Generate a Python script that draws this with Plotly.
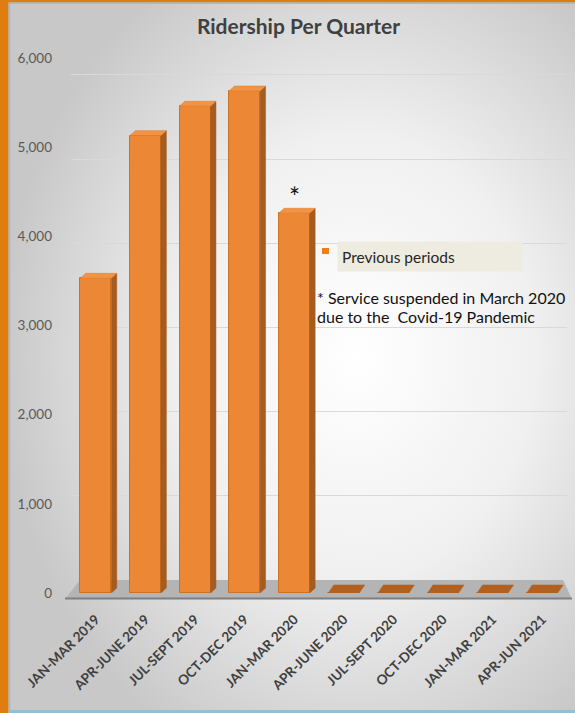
import base64
import plotly.graph_objects as go

# ---------------- data ----------------
quarters = ["JAN-MAR 2019", "APR-JUNE 2019", "JUL-SEPT 2019", "OCT-DEC 2019",
            "JAN-MAR 2020", "APR-JUNE 2020", "JUL-SEPT 2020", "OCT-DEC 2020",
            "JAN-MAR 2021", "APR-JUN 2021"]
riders = [3530, 5130, 5460, 5630, 4260, 0, 0, 0, 0, 0]
y_ticks = [0, 1000, 2000, 3000, 4000, 5000, 6000]
series_name = "Previous periods"
note_lines = ["* Service suspended in March 2020", "due to the \u00a0Covid-19 Pandemic"]
suspended_index = 4

# ---------------- geometry / style ----------------
W, H = 575, 713
ML, MR, MT, MB = 71, 8, 58, 120
PW, PH = W - ML - MR, H - MT - MB
BAR_W = 0.625
DX, DY = 0.11, 55          # oblique depth of the 3-D bars (axis units)
SLAB_DY = 90
FRONT = "#ec8835"
SIDE = "#a65b1f"
TOP = "#f29444"
SLAB = "#b3601f"


def px(x):
    return (x - ML) / PW


def py(y):
    return (H - MB - y) / PH


idx = list(range(len(quarters)))

# side and top faces derived from values
side_x, side_y, top_x, top_y, slab_x, slab_y = [], [], [], [], [], []
for i, v in zip(idx, riders):
    xl, xr = i - BAR_W / 2, i + BAR_W / 2
    if v > 0:
        side_x += [xr, xr, xr + DX, xr + DX, xr, None]
        side_y += [0, v, v + DY, DY, 0, None]
        top_x += [xl, xr, xr + DX, xl + DX, xl, None]
        top_y += [v, v, v + DY, v + DY, v, None]
    else:
        slab_x += [xl, xr, xr + DX, xl + DX, xl, None]
        slab_y += [v, v, v + SLAB_DY, v + SLAB_DY, v, None]

fig = go.Figure()
fig.add_trace(go.Bar(x=idx, y=riders, width=BAR_W, name=series_name,
                     marker=dict(color=FRONT, line=dict(color="#d0711f", width=1)),
                     showlegend=False, hoverinfo="x+y"))
fig.add_trace(go.Scatter(x=side_x, y=side_y, fill="toself", fillcolor=SIDE, mode="lines",
                         line=dict(color=SIDE, width=0.5), showlegend=False, hoverinfo="skip"))
fig.add_trace(go.Scatter(x=top_x, y=top_y, fill="toself", fillcolor=TOP, mode="lines",
                         line=dict(color="#d9782a", width=0.5), showlegend=False, hoverinfo="skip"))
fig.add_trace(go.Scatter(x=slab_x, y=slab_y, fill="toself", fillcolor=SLAB, mode="lines",
                         line=dict(color=SLAB, width=0.5), showlegend=False, hoverinfo="skip"))
# carrier for the back-wall grid axis
fig.add_trace(go.Scatter(x=[0], y=[0], yaxis="y2", mode="none", showlegend=False, hoverinfo="skip"))

# background gradient
svg = ('<svg xmlns="http://www.w3.org/2000/svg" width="575" height="713">'
       '<defs><radialGradient id="g" cx="0.62" cy="0.5" r="0.62">'
       '<stop offset="0" stop-color="#ffffff"/><stop offset="0.5" stop-color="#f0f0f0"/>'
       '<stop offset="1" stop-color="#c8c8c8"/></radialGradient></defs>'
       '<rect width="575" height="713" fill="url(#g)"/></svg>')
src = "data:image/svg+xml;base64," + base64.b64encode(svg.encode()).decode()

shapes = [
    # floor
    dict(type="path", xref="paper", yref="paper", layer="below",
         path=f"M {px(65)},{py(599)} L {px(572)},{py(599)} L {px(563)},{py(580)} L {px(80)},{py(580)} Z",
         fillcolor="#b4b4b4", line=dict(width=0)),
    dict(type="line", xref="paper", yref="paper", layer="below",
         x0=px(65), x1=px(572), y0=py(598.5), y1=py(598.5), line=dict(color="#7f7f7f", width=2)),
    # legend swatch
    dict(type="rect", xref="paper", yref="paper", x0=px(322), x1=px(329), y0=py(248), y1=py(254),
         fillcolor="#e8801f", line=dict(width=0)),
    # frame
    dict(type="rect", xref="paper", yref="paper", layer="above", x0=px(0), x1=px(8.5), y0=py(0), y1=py(H),
         fillcolor="#df7d10", line=dict(width=0)),
    dict(type="rect", xref="paper", yref="paper", layer="above", x0=px(0), x1=px(W), y0=py(0), y1=py(2.5),
         fillcolor="#df7d10", line=dict(width=0)),
    dict(type="line", xref="paper", yref="paper", layer="above", x0=px(9.5), x1=px(9.5), y0=py(3), y1=py(H),
         line=dict(color="#93c1d4", width=1.5)),
    dict(type="line", xref="paper", yref="paper", layer="above", x0=px(9), x1=px(W), y0=py(3.3), y1=py(3.3),
         line=dict(color="#93c1d4", width=1.5)),
    dict(type="line", xref="paper", yref="paper", layer="above", x0=px(9), x1=px(W), y0=py(711.5), y1=py(711.5),
         line=dict(color="#93c1d4", width=3)),
]

annotations = [
    dict(xref="paper", yref="paper", x=px(337), y=py(241), xanchor="left", yanchor="top",
         text=series_name, showarrow=False, align="left", bgcolor="#eeece1",
         width=176, height=21, borderpad=4,
         font=dict(family="Lato", size=15.5, color="#262626")),
    dict(xref="x", yref="y", x=suspended_index, y=riders[suspended_index],
         yanchor="bottom", text="*", showarrow=False, yshift=-2,
         font=dict(family="Lato", size=26, color="#111111")),
]
for k, line in enumerate(note_lines):
    annotations.append(dict(xref="paper", yref="paper", x=px(315), y=py(297 + 19 * k),
                            xanchor="left", yanchor="middle", text=line, showarrow=False, align="left",
                            font=dict(family="Lato", size=16, color="#111111")))

fig.update_layout(
    width=W, height=H,
    margin=dict(l=ML, r=MR, t=MT, b=MB),
    paper_bgcolor="#dcdcdc", plot_bgcolor="rgba(0,0,0,0)",
    title=dict(text="<b>Ridership Per Quarter</b>", x=298.5 / W, xref="container", xanchor="center",
               y=1 - 27 / H, yref="container", yanchor="middle",
               font=dict(family="Lato", size=21, color="#404040")),
    xaxis=dict(range=[-0.5, len(quarters) - 0.5], tickvals=idx, ticktext=quarters, tickangle=-45,
               showgrid=False, zeroline=False, showline=False, ticks="", ticklabelstandoff=15,
               tickfont=dict(family="Lato", size=13.5, color="#404040", weight="bold")),
    yaxis=dict(range=[0, 6000], tickvals=y_ticks, tickformat=",", showgrid=False, zeroline=False,
               showline=False, ticks="", ticklabelstandoff=18,
               tickfont=dict(family="Lato", size=13.5, color="#595959")),
    yaxis2=dict(overlaying="y", range=[-154.5, 6201.7], tickvals=y_ticks[1:], showgrid=True,
                gridcolor="#d9d9d9", gridwidth=1, showticklabels=False, zeroline=False, showline=False),
    shapes=shapes, annotations=annotations,
    images=[dict(source=src, xref="paper", yref="paper", x=px(0), y=py(0), sizex=W / PW, sizey=H / PH,
                 xanchor="left", yanchor="top", sizing="stretch", layer="below")],
    showlegend=False, bargap=0,
)

fig.write_html("out.html", config={"displayModeBar": False},
               post_script="document.body.style.margin='0px';")
